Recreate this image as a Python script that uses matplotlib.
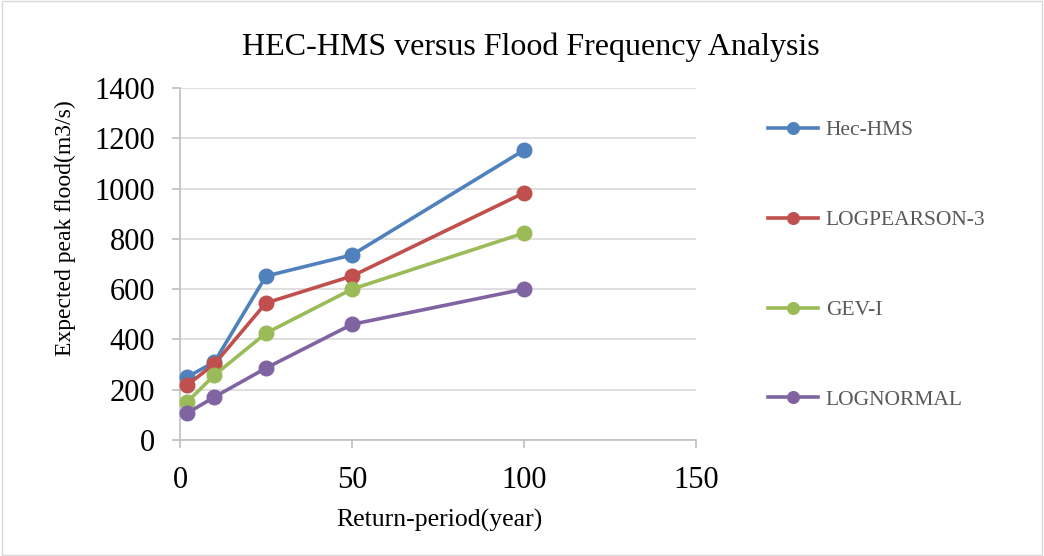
import matplotlib.pyplot as plt
from matplotlib.patches import Rectangle

# Data
return_period = [2, 10, 25, 50, 100]
hec_hms = [250, 310, 652, 736, 1153]
log_pearson3 = [218, 302, 545, 652, 983]
gev_i = [150, 258, 425, 600, 823]
lognormal = [106, 171, 286, 460, 600]

series = [
    ("Hec-HMS", hec_hms, "#4F81BD"),
    ("LOGPEARSON-3", log_pearson3, "#C0504D"),
    ("GEV-I", gev_i, "#9BBB59"),
    ("LOGNORMAL", lognormal, "#8064A2"),
]

plt.rcParams['font.family'] = ['Liberation Serif', 'DejaVu Serif']

fig = plt.figure(figsize=(10.44, 5.56), dpi=100)
ax = fig.add_axes([180 / 1044, 1 - 440 / 556, 516 / 1044, 352 / 556])

for name, vals, col in series:
    ax.plot(return_period, vals, color=col, lw=2.6, marker='o', ms=10.5,
            label=name, clip_on=False, zorder=3)

ax.set_xlim(0, 150)
ax.set_ylim(0, 1400)
ax.set_xticks([0, 50, 100, 150])
ax.set_yticks(range(0, 1401, 200))
ax.yaxis.grid(True, color='#d9d9d9', lw=1.2)
ax.set_axisbelow(True)
for s in ['top', 'right']:
    ax.spines[s].set_visible(False)
for s in ['left', 'bottom']:
    ax.spines[s].set_color('#bfbfbf')
    ax.spines[s].set_linewidth(1.2)
ax.tick_params(axis='both', colors='#bfbfbf', labelcolor='black',
               labelsize=22, length=6, width=1.2)
ax.tick_params(axis='y', pad=12)
ax.tick_params(axis='x', pad=13)

fig.text(439 / 1044, 1 - 520 / 556, "Return-period(year)", fontsize=18.5,
         ha='center', va='center')
fig.text(65 / 1044, 1 - 228 / 556, "Expected peak flood(m3/s)", fontsize=17,
         ha='center', va='center', rotation=90)
fig.text(531 / 1044, 1 - 47 / 556, "HEC-HMS versus Flood Frequency Analysis",
         ha='center', va='center', fontsize=23)

leg = fig.legend(loc='upper left', bbox_to_anchor=(749 / 1044, 1 - 101 / 556),
                 frameon=False, fontsize=15.5, labelspacing=3.24,
                 handlelength=2.3, handletextpad=0.37, markerscale=0.8)
for t in leg.get_texts():
    t.set_color('#595959')

fig.patches.append(Rectangle((0.002, 0.002), 0.996, 0.996, transform=fig.transFigure,
                             fill=False, edgecolor='#d9d9d9', lw=1))

fig.savefig("out.png", dpi=100)
